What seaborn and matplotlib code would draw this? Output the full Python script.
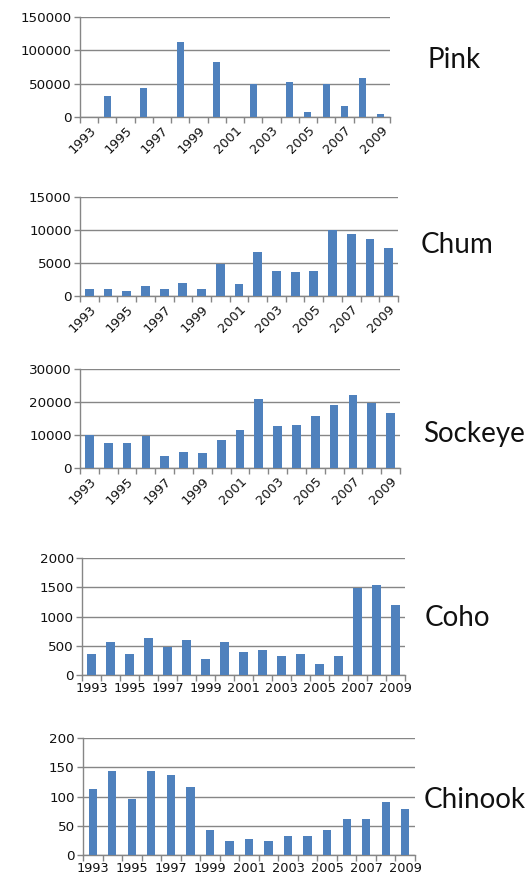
import matplotlib
matplotlib.use("Agg")
import matplotlib.pyplot as plt
import seaborn as sns
import pandas as pd

years = list(range(1993, 2010))
pink = [0, 31000, 0, 43000, 0, 113000, 0, 83000, 0, 49000, 0, 53000, 8000, 49000, 16000, 58000, 5000]
chum = [1000, 1000, 800, 1500, 1000, 2000, 1000, 4900, 1800, 6600, 3800, 3600, 3800, 10000, 9400, 8600, 7300]
sockeye = [10000, 7600, 7600, 9800, 3500, 5000, 4600, 8600, 11600, 21000, 12600, 13100, 15700, 19100, 22100, 19800, 16600]
coho = [360, 560, 360, 640, 480, 590, 270, 560, 390, 420, 330, 360, 190, 330, 1490, 1540, 1200]
chinook = [112, 143, 95, 143, 137, 117, 42, 24, 27, 24, 33, 33, 42, 61, 61, 90, 78]
species = ["Pink", "Chum", "Sockeye", "Coho", "Chinook"]
ymax = [150000, 15000, 30000, 2000, 200]
ystep = [50000, 5000, 10000, 500, 50]

sns.set_theme(style="white")
plt.rcParams['font.family'] = ['DejaVu Sans']

W, H = 526, 886
fig = plt.figure(figsize=(W / 100, H / 100), dpi=100)

# pixel boxes: left, top, right, bottom
boxes = [(80, 17, 390, 117), (80, 197, 398, 296), (80, 369, 400, 468),
         (82, 558, 405, 675), (83, 738, 415, 855)]
label_pos = [(427, 68), (421, 253), (423, 442), (425, 626), (424, 808)]
bar_w = [0.38, 0.47, 0.46, 0.46, 0.42]
rotated = [True, True, True, False, False]
series = [pink, chum, sockeye, coho, chinook]
bar_color = "#4F81BD"
grid_col = "#868686"
txt_col = "#111111"

for i, (vals, (l, t, r, b)) in enumerate(zip(series, boxes)):
    ax = fig.add_axes([l / W, 1 - b / H, (r - l) / W, (b - t) / H])
    df = pd.DataFrame({"year": [str(y) for y in years], "value": vals})
    sns.barplot(data=df, x="year", y="value", color=bar_color, width=bar_w[i],
                saturation=1, ax=ax, zorder=3, linewidth=0)
    ax.set_xlim(-0.5, len(years) - 0.5)
    ax.set_ylim(0, ymax[i])
    yt = list(range(0, ymax[i] + 1, ystep[i]))
    ax.set_yticks(yt)
    ax.set_yticklabels([str(v) for v in yt], fontsize=9.7, color=txt_col)
    ax.set_xlabel("")
    ax.set_ylabel("")
    ax.grid(axis="y", color=grid_col, linewidth=1.0, zorder=0)
    ax.set_axisbelow(True)
    for s in ["top", "right"]:
        ax.spines[s].set_visible(False)
    for s in ["left", "bottom"]:
        ax.spines[s].set_color(grid_col)
        ax.spines[s].set_linewidth(1.0)
    ax.tick_params(axis="y", length=4, width=1, color=grid_col, pad=2, left=True)
    ax.set_xticks([j for j in range(0, len(years), 2)])
    labels = [str(years[j]) for j in range(0, len(years), 2)]
    if rotated[i]:
        ax.set_xticklabels(labels, rotation=45, ha="right", rotation_mode="anchor",
                           fontsize=9.3, color=txt_col)
    else:
        ax.set_xticklabels(labels, fontsize=9.3, color=txt_col)
    ax.tick_params(axis="x", which="major", length=0, pad=5)
    ax.set_xticks([j - 0.5 for j in range(len(years) + 1)], minor=True)
    ax.tick_params(axis="x", which="minor", length=4, width=1, color=grid_col, bottom=True)
    fig.text(label_pos[i][0] / W, 1 - label_pos[i][1] / H, species[i],
             fontsize=20, va="baseline", ha="left", color=txt_col,
             family=["Lato", "DejaVu Sans"])

fig.savefig("out.png", dpi=100, facecolor="white")
